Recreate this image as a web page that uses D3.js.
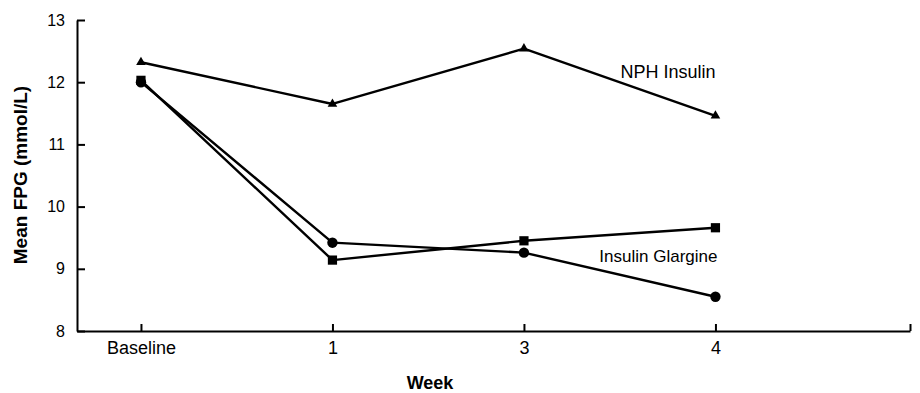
<!DOCTYPE html>
<html>
<head>
<meta charset="utf-8">
<script src="https://cdn.jsdelivr.net/npm/d3@7"></script>
<style>
  html, body { margin: 0; padding: 0; background: #fff; }
  svg { display: block; font-family: "Liberation Sans", Arial, Helvetica, sans-serif; }
  .axis path, .axis line { stroke: #000; stroke-width: 2; }
  .axis text { fill: #000; }
</style>
</head>
<body>
<div id="chart"></div>
<script>
// week labels along the x axis
const weeks = ['Baseline', '1', '3', '4'];
// mean FPG (mmol/L) per week
const nphInsulin = [12.32, 11.65, 12.54, 11.46];
const glargineSquares = [12.03, 9.14, 9.45, 9.66];
const glargineCircles = [12.0, 9.42, 9.26, 8.55];
const yTicks = [8, 9, 10, 11, 12, 13];

const width = 920, height = 393;
const margin = { top: 20, right: 10, bottom: 62, left: 77 };

const svg = d3.select('#chart').append('svg')
  .attr('width', width)
  .attr('height', height);

// index-based x so the axis can run on past week 4
const x = d3.scaleLinear()
  .domain([-0.334, 4.016])
  .range([margin.left, width - margin.right]);

const y = d3.scaleLinear()
  .domain([8, 13])
  .range([height - margin.bottom, margin.top]);

svg.append('g')
  .attr('class', 'axis')
  .attr('transform', `translate(${margin.left},0)`)
  .call(d3.axisLeft(y).tickValues(yTicks).tickFormat(d3.format('d'))
    .tickSizeInner(-8).tickSizeOuter(0).tickPadding(12))
  .selectAll('text')
  .style('font-size', '16px');

svg.append('g')
  .attr('class', 'axis')
  .attr('transform', `translate(0,${height - margin.bottom})`)
  .call(d3.axisBottom(x)
    .tickValues([0, 1, 2, 3, 4.016])
    .tickFormat(d => weeks[d] || '')
    .tickSizeInner(-7).tickSizeOuter(0).tickPadding(10))
  .selectAll('text')
  .style('font-size', '18px');

const line = d3.line()
  .x((d, i) => x(i))
  .y(d => y(d));

function drawSeries(values, marker) {
  svg.append('path')
    .datum(values)
    .attr('fill', 'none')
    .attr('stroke', '#000')
    .attr('stroke-width', 2.4)
    .attr('stroke-linejoin', 'round')
    .attr('d', line);

  svg.append('g').selectAll('path')
    .data(values)
    .join('path')
    .attr('transform', (d, i) => `translate(${x(i)},${y(d)})`)
    .attr('d', d3.symbol().type(marker.type).size(marker.size))
    .attr('fill', '#000');
}

drawSeries(nphInsulin, { type: d3.symbolTriangle, size: 40 });
drawSeries(glargineCircles, { type: d3.symbolCircle, size: 85 });
drawSeries(glargineSquares, { type: d3.symbolSquare, size: 85 });

// series labels
svg.append('text')
  .attr('x', x(3))
  .attr('y', y(11.46) - 38)
  .attr('text-anchor', 'end')
  .style('font-size', '18px')
  .text('NPH Insulin');

svg.append('text')
  .attr('x', x(3) + 2)
  .attr('y', y(9.0) - 7)
  .attr('text-anchor', 'end')
  .style('font-size', '17px')
  .text('Insulin Glargine');

// axis titles
svg.append('text')
  .attr('x', 430)
  .attr('y', 389)
  .attr('text-anchor', 'middle')
  .style('font-size', '18px')
  .attr('font-weight', 'bold')
  .text('Week');

svg.append('text')
  .attr('transform', `translate(27,175) rotate(-90)`)
  .attr('text-anchor', 'middle')
  .style('font-size', '19px')
  .attr('font-weight', 'bold')
  .text('Mean FPG (mmol/L)');
</script>
</body>
</html>
